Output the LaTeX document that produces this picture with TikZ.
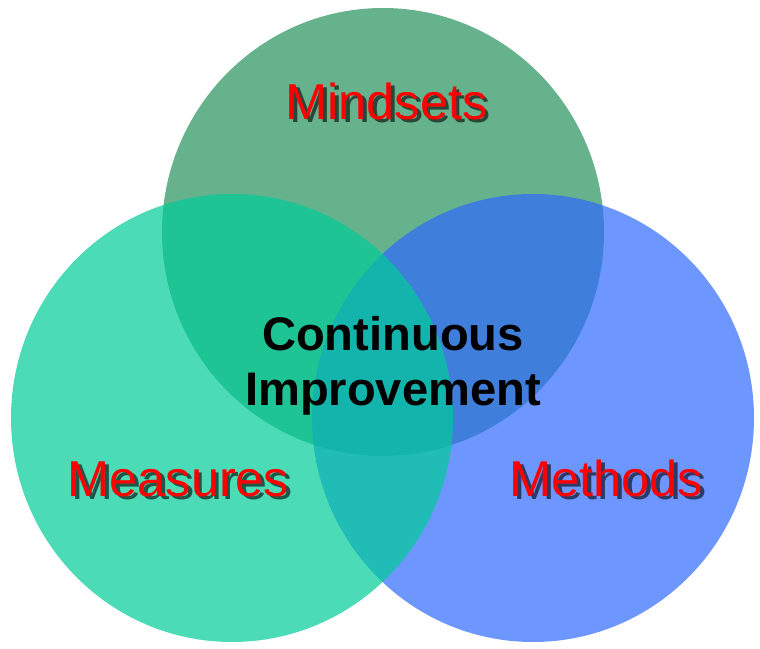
\documentclass[tikz,border=0pt]{standalone}
\usepackage{fontspec}
\setmainfont{Liberation Sans}
\usetikzlibrary{positioning}
\usetikzlibrary{shapes.geometric}

\definecolor{mindgreen}{RGB}{102,178,140}
\definecolor{measgreen}{RGB}{0,204,152}
\definecolor{methblue}{RGB}{49,105,255}

\begin{document}
\begin{tikzpicture}
	\tikzset{vennset/.style = {shape=ellipse, inner sep=0pt, draw=none, minimum width=8.84cm, minimum height=8.96cm}}
	\tikzset{redtxt/.style = {inner sep=0pt, text=red, font=\fontsize{28.7}{34}\selectfont}}
	\tikzset{shadowtxt/.style = {inner sep=0pt, text=black, text opacity=0.6, font=\fontsize{28.7}{34}\selectfont}}
	\useasboundingbox (0,0) rectangle (15.2,12.98);
	% the three sets
	\node[vennset, fill=mindgreen] (MIND) at (7.66,8.34) {};
	\node[vennset, fill=methblue, fill opacity=0.7] (METH) at (10.66,4.62) {};
	\node[vennset, fill=measgreen, fill opacity=0.7] (MEAS) at (4.64,4.62) {};
	% labels
	\node[shadowtxt, anchor=base] (MINDSH) at (7.80,10.52) {Mindsets};
	\node[redtxt, anchor=base] (MINDTXT) at ([xshift=-2pt,yshift=2pt]MINDSH.base) {Mindsets};
	\node[shadowtxt, anchor=base] (MEASSH) at (3.64,2.98) {Measures};
	\node[redtxt, anchor=base] (MEASTXT) at ([xshift=-2pt,yshift=2pt]MEASSH.base) {Measures};
	\node[shadowtxt, anchor=base] (METHSH) at (12.20,2.98) {Methods};
	\node[redtxt, anchor=base] (METHTXT) at ([xshift=-2pt,yshift=2pt]METHSH.base) {Methods};
	\node[inner sep=0pt, align=center, anchor=base, font=\bfseries\fontsize{26.8}{31.3}\selectfont] (CI) at (7.86,4.86)
		{Continuous\\Improvement};
\end{tikzpicture}
\end{document}
